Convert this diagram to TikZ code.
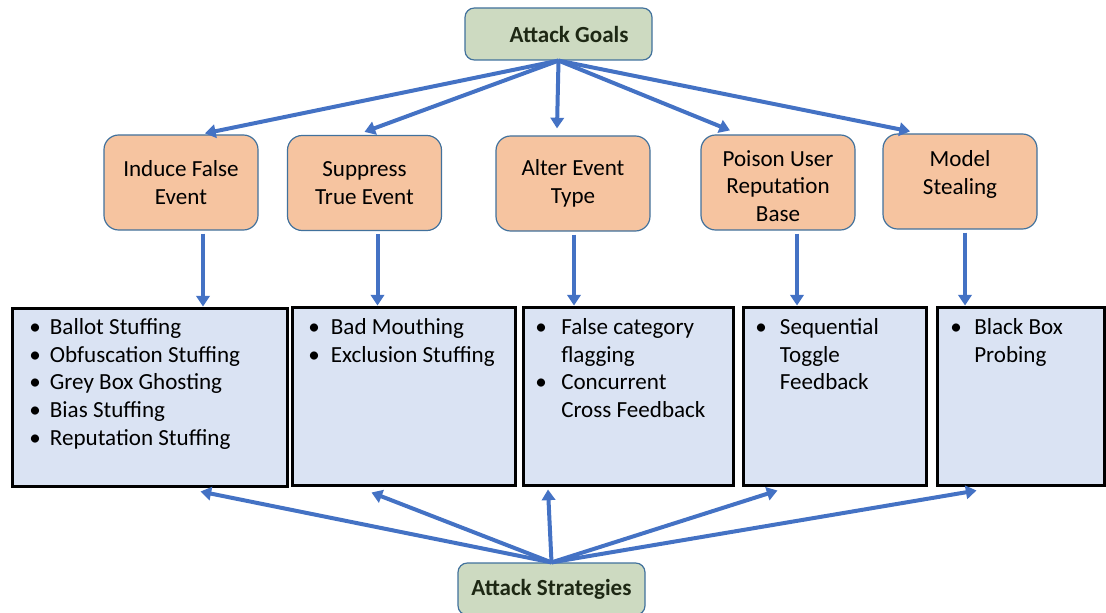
\documentclass[tikz,border=0pt]{standalone}
\usepackage{fontspec}
\setmainfont{Carlito}
\usetikzlibrary{arrows.meta,calc}

\definecolor{goalfill}{RGB}{205,218,193}
\definecolor{edgeblue}{RGB}{65,113,156}
\definecolor{evfill}{RGB}{246,196,160}
\definecolor{listfill}{RGB}{218,227,243}
\definecolor{arrowblue}{RGB}{68,114,196}
\definecolor{titletext}{RGB}{30,40,20}

% bullet item and continuation line inside a list box
\newcommand\itm[2][17pt]{\makebox[#1][l]{\textbullet}#2}
\newcommand\cont[2][17pt]{\hspace*{#1}#2}

\tikzset{
  txt/.style={font=\fontsize{17.3}{20.8}\selectfont},
  goalbox/.style={draw=edgeblue, line width=0.9pt, fill=goalfill,
    rounded corners=7pt, minimum width=187*0.75pt, minimum height=52*0.75pt,
    text=titletext, font=\fontsize{17.3}{20.8}\selectfont\bfseries},
  event/.style={txt, draw=edgeblue, line width=0.9pt, fill=evfill,
    rounded corners=11pt, minimum width=154*0.75pt, minimum height=95*0.75pt,
    align=center},
  listbox/.style={draw=black, line width=2.25pt, fill=listfill,
    minimum height=178*0.75pt},
  listtext/.style={txt, anchor=north west, inner sep=0pt, align=left},
  arr/.style={draw=arrowblue, line width=3pt,
    -{Triangle[length=8pt,width=10pt]}}
}

\begin{document}
\begin{tikzpicture}[x=0.75pt,y=-0.75pt]
\useasboundingbox (0,0) rectangle (1106,613);

% goals and strategies
\node[goalbox] (goal) at (558.5,34) {\hspace*{16pt}Attack Goals};
\node[goalbox] (strat) at (551.5,589) {Attack Strategies};

% attack goals
\node[event] (ev1) at (181,182.5) {Induce False\\Event};
\node[event] (ev2) at (364.5,183) {Suppress\\True Event};
\node[event] (ev3) at (573,183.5) {Alter Event\\Type};
\node[event] (ev4) at (778,182.5) {\rule{0pt}{17pt}Poison User\\Reputation\\Base};
\node[event] (ev5) at (960,181.5) {Model\\Stealing\rule[-14pt]{0pt}{14pt}};

% strategy lists
\node[listbox, minimum width=275*0.75pt] (l1) at (149.5,397) {};
\node[listbox, minimum width=223*0.75pt] (l2) at (403.5,396) {};
\node[listbox, minimum width=210*0.75pt] (l3) at (628,396) {};
\node[listbox, minimum width=183*0.75pt] (l4) at (834.5,396) {};
\node[listbox, minimum width=167*0.75pt] (l5) at (1020.5,396) {};

\node[listtext] (t1) at (29,318) {\itm[15.5pt]{Ballot Stuffing}\\\itm[15.5pt]{Obfuscation Stuffing}\\\itm[15.5pt]{Grey Box Ghosting}\\\itm[15.5pt]{Bias Stuffing}\\\itm[15.5pt]{Reputation Stuffing}};
\node[listtext] (t2) at (308,318) {\itm[17pt]{Bad Mouthing}\\\itm[17pt]{Exclusion Stuffing}};
\node[listtext] (t3) at (535,318) {\itm[19.5pt]{False category}\\\cont[19.5pt]{flagging}\\\itm[19.5pt]{Concurrent}\\\cont[19.5pt]{Cross Feedback}};
\node[listtext] (t4) at (755,318) {\itm[18.5pt]{Sequential}\\\cont[18.5pt]{Toggle}\\\cont[18.5pt]{Feedback}};
\node[listtext] (t5) at (950,318) {\itm[18pt]{Black Box}\\\cont[18pt]{Probing}};

% goal to attack goals
\draw[arr] (goal.south) -- ($(ev1.north)+(24,-1)$);
\draw[arr] (goal.south) -- ($(ev2.north)+(0,-3)$);
\draw[arr] (goal.south) -- ($(ev3.north)+(-16,-7)$);
\draw[arr] (goal.south) -- ($(ev4.north)+(-48,-4)$);
\draw[arr] (goal.south) -- ($(ev5.north)+(-50,-2)$);

% attack goals to lists
\coordinate (d1) at ($(ev1.south)+(22,3)$);
\coordinate (d2) at ($(ev2.south)+(13,3)$);
\coordinate (d3) at ($(ev3.south)+(1,3)$);
\coordinate (d4) at ($(ev4.south)+(19,3)$);
\coordinate (d5) at ($(ev5.south)+(5,3)$);
\draw[arr] (d1) -- (d1 |- l1.north);
\draw[arr] (d2) -- (d2 |- l2.north);
\draw[arr] (d3) -- (d3 |- l3.north);
\draw[arr] (d4) -- (d4 |- l4.north);
\draw[arr] (d5) -- (d5 |- l5.north);

% strategies to lists
\draw[arr] (strat.north) -- ($(l1.south)+(51,4)$);
\draw[arr] (strat.north) -- ($(l2.south)+(-32,6)$);
\draw[arr] (strat.north) -- ($(l3.south)+(-80,3)$);
\draw[arr] (strat.north) -- ($(l4.south)+(-57,4)$);
\draw[arr] (strat.north) -- ($(l5.south)+(-44,4)$);
\end{tikzpicture}
\end{document}
